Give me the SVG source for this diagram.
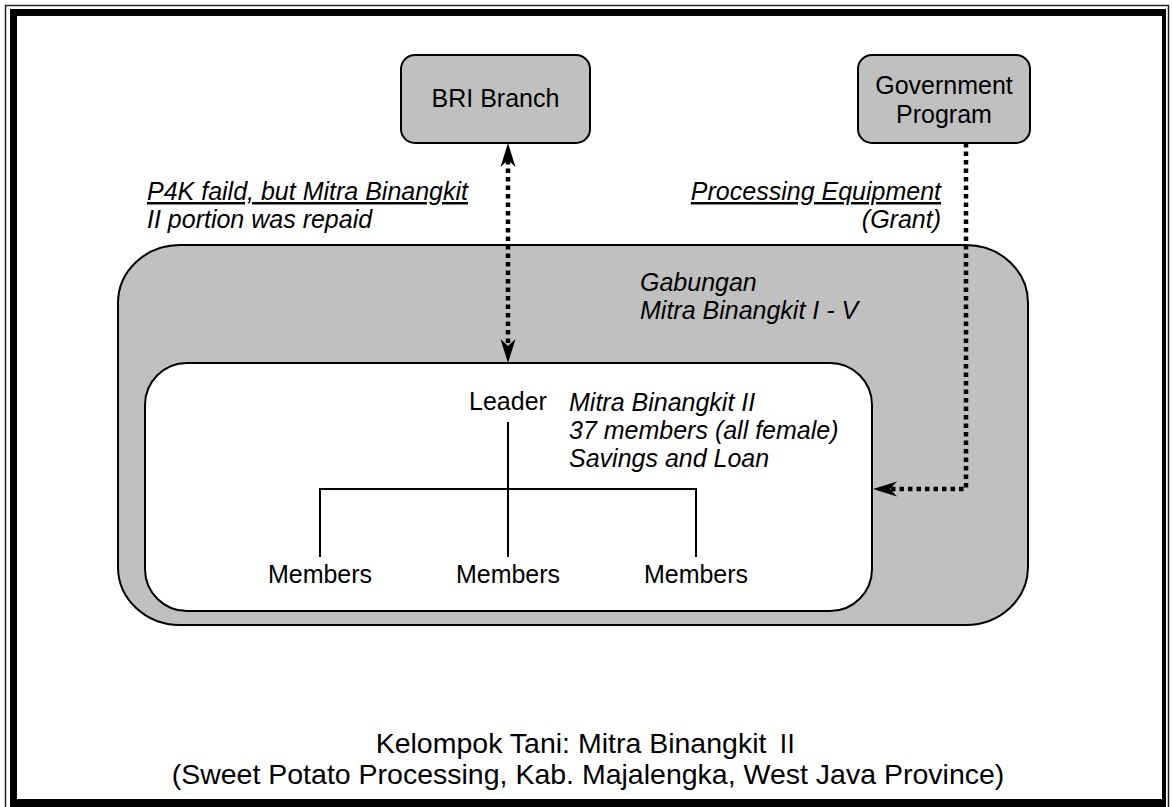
<svg xmlns="http://www.w3.org/2000/svg" width="1172" height="807" viewBox="0 0 1172 807">
  <style>
    .t { font-family: "Liberation Sans", Arial, sans-serif; font-size: 25px; fill: #000; }
    .it { font-style: italic; }
    .ul { text-decoration: underline; }
    .mid { text-anchor: middle; }
    .end { text-anchor: end; }
    .box { fill: #c0c0c0; stroke: #000; stroke-width: 2; }
    .panel { fill: #fff; stroke: #000; stroke-width: 2; }
    .tree { fill: none; stroke: #000; stroke-width: 2; }
    .dots { fill: none; stroke: #000; stroke-width: 4.5; stroke-dasharray: 4.5 4; }
    .title { font-family: "Liberation Sans", Arial, sans-serif; font-size: 28.5px; fill: #000; }
    .roman { font-family: "Noto Sans CJK JP", "DejaVu Sans", sans-serif; font-size: 26px; }
  </style>
  <defs>
    <marker id="head" markerUnits="userSpaceOnUse" viewBox="-8 -8 26 16" refX="0" refY="0" markerWidth="26" markerHeight="16" orient="auto-start-reverse">
      <path d="M0,0 L-7,-7.5 L17,0 L-7,7.5 Z" fill="#000"/>
    </marker>
  </defs>

  <!-- page frame: thin outer rule and heavy inner rule -->
  <g id="frame">
    <rect x="5.5" y="5.5" width="1163" height="820" fill="none" stroke="#222" stroke-width="1.5"/>
    <rect x="10" y="9" width="7" height="800" fill="#000"/>
    <rect x="10" y="9" width="1156" height="7" fill="#000"/>
    <rect x="1162" y="9" width="4" height="800" fill="#000"/>
    <rect x="10" y="799" width="1156" height="10" fill="#000"/>
  </g>

  <g id="gabungan">
    <rect class="box" x="118" y="245" width="910" height="380" rx="62" ry="58"/>
    <text class="t it" x="640" y="291">Gabungan</text>
    <text class="t it" x="640" y="319">Mitra Binangkit I - V</text>
  </g>

  <g id="mitra-binangkit-ii">
    <rect class="panel" x="145" y="363" width="727" height="248" rx="42" ry="42"/>
    <text class="t it" x="569" y="411">Mitra Binangkit II</text>
    <text class="t it" x="569" y="439">37 members (all female)</text>
    <text class="t it" x="569" y="467">Savings and Loan</text>
  </g>

  <g id="bri-branch">
    <rect class="box" x="401" y="55" width="189" height="88" rx="14" ry="14"/>
    <text class="t mid" x="495.5" y="107">BRI Branch</text>
  </g>

  <g id="government-program">
    <rect class="box" x="858" y="55" width="172" height="88" rx="14" ry="14"/>
    <text class="t mid" x="944" y="94">Government</text>
    <text class="t mid" x="944" y="123">Program</text>
  </g>

  <g id="leader">
    <text class="t mid" x="508" y="410">Leader</text>
  </g>
  <g id="members-1">
    <text class="t mid" x="320" y="583">Members</text>
  </g>
  <g id="members-2">
    <text class="t mid" x="508" y="583">Members</text>
  </g>
  <g id="members-3">
    <text class="t mid" x="696" y="583">Members</text>
  </g>

  <g id="connectors">
    <!-- group hierarchy -->
    <path class="tree" d="M508,422 V557 M320,557 V489 H696 V557"/>
    <!-- loan link between BRI and the group leader -->
    <path class="dots" d="M508,160 V346" marker-start="url(#head)" marker-end="url(#head)"/>
    <!-- equipment grant from the government -->
    <path class="dots" d="M966,143 V489 H890" marker-end="url(#head)"/>
  </g>

  <g id="labels">
    <text class="t it ul" x="147" y="200">P4K faild, but Mitra Binangkit</text>
    <text class="t it" x="147" y="228">II portion was repaid</text>
    <text class="t it ul end" x="941" y="200">Processing Equipment</text>
    <text class="t it end" x="941" y="228">(Grant)</text>
  </g>

  <g id="caption">
    <text class="title mid" x="588" y="753">Kelompok Tani: Mitra Binangkit <tspan class="roman">Ⅱ</tspan></text>
    <text class="title mid" x="588" y="784">(Sweet Potato Processing, Kab. Majalengka, West Java Province)</text>
  </g>
</svg>
